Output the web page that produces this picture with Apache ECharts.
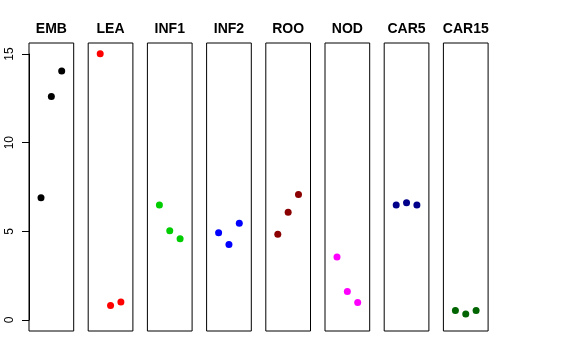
<!DOCTYPE html>
<html><head><meta charset="utf-8">
<script src="https://cdn.jsdelivr.net/npm/echarts@6/dist/echarts.min.js"></script>
<style>html,body{margin:0;padding:0;background:#fff}#c{width:576px;height:360px}</style>
</head><body><div id="c"></div>
<script>
const categories = ["EMB","LEA","INF1","INF2","ROO","NOD","CAR5","CAR15"];
const colors = ["#000000","#FF0000","#00CD00","#0000FF","#8B0000","#FF00FF","#00008B","#006400"];
const EMB = [6.9, 12.6, 14.04];
const LEA = [15.02, 0.83, 1.03];
const INF1 = [6.5, 5.04, 4.59];
const INF2 = [4.94, 4.27, 5.47];
const ROO = [4.85, 6.09, 7.09];
const NOD = [3.57, 1.62, 1.0];
const CAR5 = [6.5, 6.62, 6.49];
const CAR15 = [0.55, 0.36, 0.56];
const yTicks = [0, 5, 10, 15];
const seriesValues = [EMB, LEA, INF1, INF2, ROO, NOD, CAR5, CAR15];

(function () {
const chart = echarts.init(document.getElementById('c'), null, {renderer:'canvas'});
const grids = [], xAxes = [], yAxes = [], series = [], titles = [];
const left0 = 29, pitch = 59.2, w = 44.7, gTop = 43, gH = 288;
categories.forEach((cat, i) => {
  const l = left0 + i * pitch;
  grids.push({left: l, top: gTop, width: w, height: gH, show: true, borderColor: '#000', borderWidth: 1, backgroundColor: 'transparent'});
  xAxes.push({gridIndex: i, type: 'value', min: -0.16, max: 4.16, show: false});
  yAxes.push({gridIndex: i, type: 'value', min: -0.6, max: 15.62, show: false});
  series.push({type: 'scatter', xAxisIndex: i, yAxisIndex: i, symbol: 'circle', symbolSize: 7,
    itemStyle: {color: colors[i], opacity: 1}, data: seriesValues[i].map((v, k) => [k + 1, v]), silent: true});
  titles.push({text: cat, left: l + w / 2, top: 22, textAlign: 'center', padding: 0,
    textStyle: {fontFamily: 'Liberation Sans', fontWeight: 'bold', fontSize: 14, color: '#000'}});
});
const ax = categories.length;
grids.push({left: left0, top: 54, width: w, height: 266, show: false});
xAxes.push({gridIndex: ax, type: 'value', show: false});
yAxes.push({gridIndex: ax, type: 'value', min: yTicks[0], max: yTicks[yTicks.length - 1], interval: 5,
  axisLine: {show: true, lineStyle: {color: '#000', width: 1}},
  axisTick: {show: true, length: 7, inside: false, lineStyle: {color: '#000', width: 1}},
  axisLabel: {show: true, rotate: 90, margin: 13, color: '#000', fontFamily: 'Liberation Sans', fontSize: 12},
  splitLine: {show: false}});
chart.setOption({
  animation: false,
  title: titles,
  grid: grids,
  xAxis: xAxes,
  yAxis: yAxes,
  series: series
});
})();
</script></body></html>
